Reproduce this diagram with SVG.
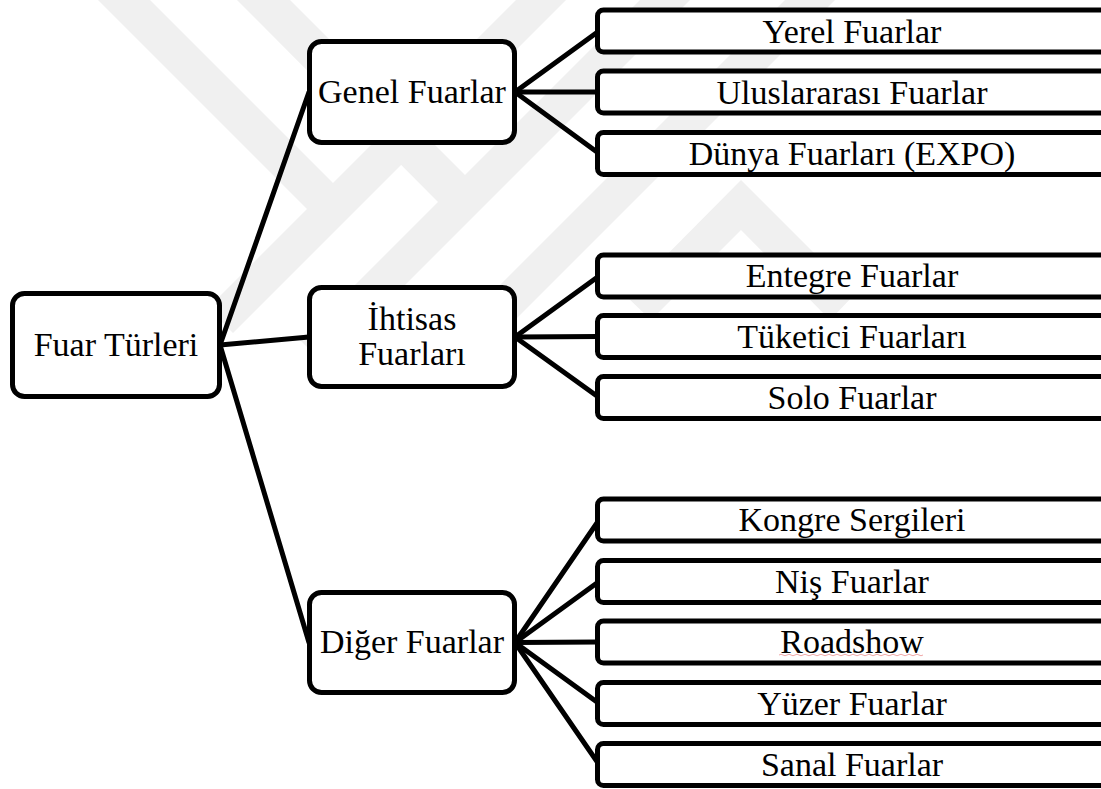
<svg xmlns="http://www.w3.org/2000/svg" width="1101" height="789" viewBox="0 0 1101 789">
  <style>
    .wm { fill: #f0f0f0; }
    .conn line { stroke: #000; stroke-width: 5; stroke-linecap: round; }
    .node rect { fill: #fff; stroke: #000; stroke-width: 5; }
    .node text { font-family: "Liberation Serif", "Times New Roman", serif; font-size: 34px; fill: #000; text-anchor: middle; }
  </style>
  <rect width="1101" height="789" fill="#fff"/>
  <g id="watermark">
    <polygon class="wm" points="98,0 150,0 333,183 516,0 566,0 233,333 208,308 307,209"/>
    <polygon class="wm" points="237,0 290,0 465,175 640,0 690,0 325,365 300,340 438,202"/>
    <polygon class="wm" points="785,0 835,0 467,368 442,343"/>
    <polygon class="wm" points="741,180 855,294 830,320 741,230 651,320 626,296"/>
  </g>
  <g id="connectors" class="conn">
    <line x1="220" y1="345" x2="309" y2="92"/>
    <line x1="220" y1="345" x2="309" y2="337"/>
    <line x1="220" y1="345" x2="309" y2="642.5"/>
    <line x1="515" y1="92" x2="599" y2="31"/>
    <line x1="515" y1="92" x2="599" y2="92"/>
    <line x1="515" y1="92" x2="599" y2="153.5"/>
    <line x1="515" y1="337" x2="599" y2="276"/>
    <line x1="515" y1="337" x2="599" y2="336.5"/>
    <line x1="515" y1="337" x2="599" y2="397.5"/>
    <line x1="515" y1="642.5" x2="599" y2="520"/>
    <line x1="515" y1="642.5" x2="599" y2="581.5"/>
    <line x1="515" y1="642.5" x2="599" y2="642"/>
    <line x1="515" y1="642.5" x2="599" y2="703.5"/>
    <line x1="515" y1="642.5" x2="599" y2="764.5"/>
  </g>
  <g id="fuar-turleri" class="node">
    <rect x="12.5" y="293.5" width="207" height="103" rx="12"/>
    <text x="116" y="356">Fuar Türleri</text>
  </g>
  <g id="genel-fuarlar" class="node">
    <rect x="309.5" y="41.5" width="205" height="101" rx="12"/>
    <text x="412" y="103">Genel Fuarlar</text>
  </g>
  <g id="ihtisas-fuarlari" class="node">
    <rect x="309.5" y="287.5" width="205" height="99" rx="12"/>
    <text x="412" y="330">İhtisas</text>
    <text x="412" y="365">Fuarları</text>
  </g>
  <g id="diger-fuarlar" class="node">
    <rect x="309.5" y="592.5" width="205" height="100" rx="12"/>
    <text x="412" y="653">Diğer Fuarlar</text>
  </g>
  <g id="yerel" class="node">
    <rect x="597.5" y="10" width="512" height="42" rx="6"/>
    <text x="852" y="42.5">Yerel Fuarlar</text>
  </g>
  <g id="uluslararasi" class="node">
    <rect x="597.5" y="71" width="512" height="42" rx="6"/>
    <text x="852" y="103.5">Uluslararası Fuarlar</text>
  </g>
  <g id="dunya" class="node">
    <rect x="597.5" y="132.5" width="512" height="42" rx="6"/>
    <text x="852" y="165">Dünya Fuarları (EXPO)</text>
  </g>
  <g id="entegre" class="node">
    <rect x="597.5" y="255" width="512" height="42" rx="6"/>
    <text x="852" y="287">Entegre Fuarlar</text>
  </g>
  <g id="tuketici" class="node">
    <rect x="597.5" y="315.5" width="512" height="42" rx="6"/>
    <text x="852" y="348">Tüketici Fuarları</text>
  </g>
  <g id="solo" class="node">
    <rect x="597.5" y="376.5" width="512" height="42" rx="6"/>
    <text x="852" y="409">Solo Fuarlar</text>
  </g>
  <g id="kongre" class="node">
    <rect x="597.5" y="499" width="512" height="42" rx="6"/>
    <text x="852" y="531">Kongre Sergileri</text>
  </g>
  <g id="nis" class="node">
    <rect x="597.5" y="560.5" width="512" height="42" rx="6"/>
    <text x="852" y="592.5">Niş Fuarlar</text>
  </g>
  <g id="roadshow" class="node">
    <rect x="597.5" y="621" width="512" height="42" rx="6"/>
    <text x="852" y="653">Roadshow</text>
    <path d="M779,655 q2,-1.5 4,0 t4,0 t4,0 t4,0 t4,0 t4,0 t4,0 t4,0 t4,0 t4,0 t4,0 t4,0 t4,0 t4,0 t4,0 t4,0 t4,0 t4,0 t4,0 t4,0 t4,0 t4,0 t4,0 t4,0 t4,0 t4,0 t4,0 t4,0 t4,0 t4,0 t4,0 t4,0 t4,0 t4,0 t4,0 t4,0" fill="none" stroke="#f0a8a8" stroke-width="1"/>
  </g>
  <g id="yuzer" class="node">
    <rect x="597.5" y="682.5" width="512" height="42" rx="6"/>
    <text x="852" y="714.5">Yüzer Fuarlar</text>
  </g>
  <g id="sanal" class="node">
    <rect x="597.5" y="743.5" width="512" height="42" rx="6"/>
    <text x="852" y="775.5">Sanal Fuarlar</text>
  </g>
</svg>
